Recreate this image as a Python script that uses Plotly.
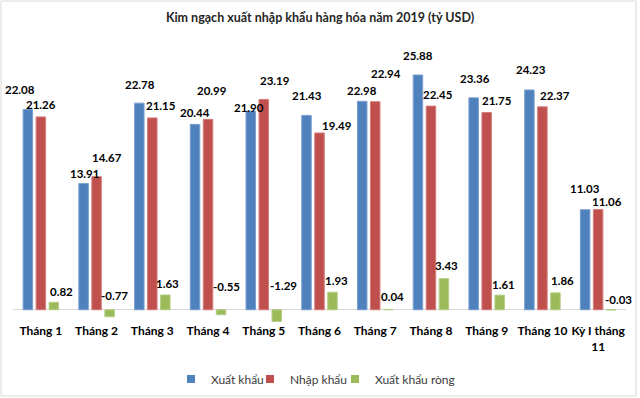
import plotly.graph_objects as go

categories = ["Tháng 1", "Tháng 2", "Tháng 3", "Tháng 4", "Tháng 5", "Tháng 6",
              "Tháng 7", "Tháng 8", "Tháng 9", "Tháng 10", "Kỳ I tháng 11"]
tick_labels = ["Tháng 1", "Tháng 2", "Tháng 3", "Tháng 4", "Tháng 5", "Tháng 6",
               "Tháng 7", "Tháng 8", "Tháng 9", "Tháng 10", "Kỳ I tháng<br>11"]
xuat_khau = [22.08, 13.91, 22.78, 20.44, 21.90, 21.43, 22.98, 25.88, 23.36, 24.23, 11.03]
nhap_khau = [21.26, 14.67, 21.15, 20.99, 23.19, 19.49, 22.94, 22.45, 21.75, 22.37, 11.06]
xuat_khau_rong = [0.82, -0.77, 1.63, -0.55, -1.29, 1.93, 0.04, 3.43, 1.61, 1.86, -0.03]

series_names = ["Xuất khẩu", "Nhập khẩu", "Xuất khẩu ròng"]
colors = ["#4F81BD", "#C0504D", "#9BBB59"]
edge_colors = ["#7A9FCF", "#D27D7B", "#B4CD85"]

# label nudges (pixels): horizontal offset from bar centre, height of label centre above bar end
nudge_dx = [
    [-8, 1, 1, -0.5, -1.6, 0.7, 0, 0, 1, 2, 0],
    [0, 10, 9, 4, 11, 17, 11, 7, 10, 12.5, 9],
    [7.7, 5, 2.5, 5, 7, 4, 4, 3, 4, 7, 7],
]
nudge_dy = [
    [20, 10, 19, 12, 4, 20, 11, 20, 19, 20, 21.5],
    [12, 19.5, 12, 29, 19.4, 7, 28, 12, 11.5, 11, 8],
    [11, 14.3, 11.5, 23, 24, 12, 13, 13, 11, 12, 10],
]

W, H = 640, 398
ML, MR, MT, MB = 13, 14, 40, 76
BARGAP, GROUPGAP = 0.30, 0.27
FONT = "Lato, 'Noto Sans', sans-serif"

plot_w = W - ML - MR
plot_h = H - MT - MB
slot = plot_w / len(categories) * (1 - BARGAP) / 3


def px_x(px):
    return (px - ML) / plot_w


def px_y(py):
    return ((H - MB) - py) / plot_h


legend_ids = ["legend", "legend2", "legend3"]
legend_left_px = [171, 250, 335]

fig = go.Figure()
all_series = [xuat_khau, nhap_khau, xuat_khau_rong]
for name, vals, col, ec, lid in zip(series_names, all_series, colors, edge_colors, legend_ids):
    fig.add_trace(go.Bar(
        x=categories, y=vals, name=name, showlegend=False,
        marker=dict(color=col, line=dict(color=ec, width=1)),
        hoverinfo="x+y+name",
    ))
    # legend proxy with small square symbol
    fig.add_trace(go.Scatter(
        x=[None], y=[None], mode="markers", name=name, legend=lid,
        marker=dict(symbol="square", size=8, color=col),
    ))

annotations = []
for si, vals in enumerate(all_series):
    bar_off = (si - 1) * slot
    for ci, (cat, v) in enumerate(zip(categories, vals)):
        annotations.append(dict(
            x=cat, y=max(v, 0), xref="x", yref="y",
            text=f"{v:.2f}", showarrow=False,
            xanchor="center", yanchor="middle",
            xshift=bar_off + nudge_dx[si][ci], yshift=nudge_dy[si][ci],
            font=dict(family=FONT, size=11.5, color="#000000", weight="bold"),
        ))

legend_style = dict(orientation="h", yanchor="middle", y=px_y(379), xanchor="left",
                    font=dict(family=FONT, size=12, color="#3A3A3A"),
                    bgcolor="rgba(0,0,0,0)", itemwidth=30)

fig.update_layout(
    width=W, height=H, autosize=False,
    margin=dict(l=ML, r=MR, t=MT, b=MB, autoexpand=False),
    paper_bgcolor="white", plot_bgcolor="white",
    barmode="group", bargap=BARGAP, bargroupgap=GROUPGAP,
    title=dict(text="Kim ngạch xuất nhập khẩu hàng hóa năm 2019 (tỷ USD)",
               x=0.5, xanchor="center", y=1 - 18 / H, yanchor="middle",
               font=dict(family=FONT, size=12.5, color="#262626", weight="bold")),
    xaxis=dict(
        tickmode="array", tickvals=categories, ticktext=tick_labels,
        range=[-0.5, len(categories) - 0.5],
        tickangle=0, automargin=False, ticklen=0,
        tickfont=dict(family=FONT, size=12, color="#000000", weight="bold"),
        showgrid=False, zeroline=False, showline=False, ticks="",
    ),
    yaxis=dict(range=[-1.35, 29.74], showgrid=False, showticklabels=False,
               automargin=False,
               zeroline=True, zerolinecolor="#D9D9D9", zerolinewidth=1, ticks=""),
    legend=dict(legend_style, x=px_x(legend_left_px[0])),
    legend2=dict(legend_style, x=px_x(legend_left_px[1])),
    legend3=dict(legend_style, x=px_x(legend_left_px[2])),
    annotations=annotations,
    shapes=[dict(type="rect", xref="paper", yref="paper",
                 x0=px_x(1), x1=px_x(636), y0=px_y(396), y1=px_y(1),
                 line=dict(color="#D9D9D9", width=1), fillcolor="rgba(0,0,0,0)",
                 layer="below")],
)

fig.write_html("out.html", config={"displayModeBar": False},
               post_script="document.body.style.margin='0px';document.body.style.overflow='hidden';")
